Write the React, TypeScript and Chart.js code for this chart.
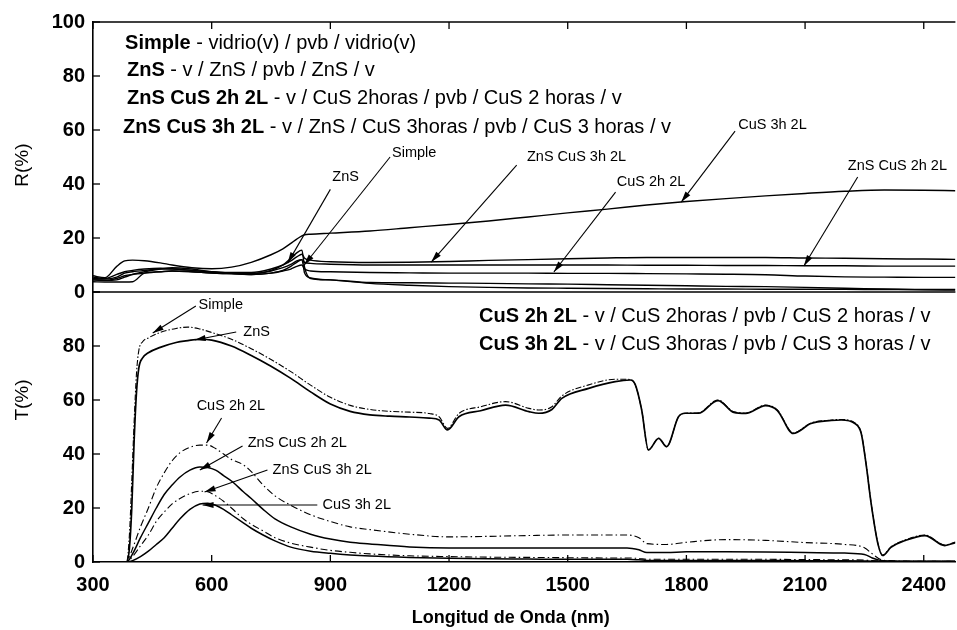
import React, { useEffect, useRef } from 'react';
import { Chart, registerables } from 'chart.js';

Chart.register(...registerables);

const FONT = '"Liberation Sans", Arial, Helvetica, sans-serif';

// ---------- Reflectance panel (R %) ----------
const wlR = [300, 330, 360, 380, 400, 430, 470, 500, 550, 600, 650, 700, 750, 780, 800, 815, 828, 835, 850, 900, 1000, 1100, 1200, 1300, 1400, 1500, 1600, 1700, 1800, 1900, 2000, 2100, 2200, 2300, 2400, 2480];
const rSimple = [3.8, 3.7, 3.7, 3.7, 3.8, 7, 7.5, 7.8, 7.5, 7, 6.8, 6.5, 7, 8, 9.5, 11, 12, 7, 5.2, 4.5, 3.2, 2.5, 2, 1.7, 1.5, 1.4, 1.3, 1.2, 1.1, 1.1, 1, 1, 1, 0.9, 0.9, 0.9];
const rZnS = [4.5, 4.3, 4.5, 5.5, 6.5, 7.5, 8.5, 9, 8.5, 7.5, 7, 6.8, 8, 10, 12.5, 14.5, 15.5, 9, 5, 4.5, 3.5, 3.4, 3.3, 3.2, 3, 2.9, 2.7, 2.5, 2.3, 2.1, 2, 1.7, 1.4, 1.1, 0.8, 0.7];
const rZnSCuS2h = [4.5, 4.3, 5, 6, 6.5, 7, 7.5, 7.8, 7.5, 7, 6.8, 6.8, 7.8, 9, 10.2, 11.5, 12, 11, 10.6, 10.3, 10, 10, 10, 10, 10, 10, 10, 9.9, 9.9, 9.8, 9.8, 9.7, 9.7, 9.6, 9.6, 9.6];
const rZnSCuS3h = [5, 4.8, 5.5, 7, 7.5, 8, 8.5, 8.5, 8, 7.5, 7.2, 7.2, 8.5, 10, 11.5, 13, 14, 12.5, 11.8, 11.2, 10.9, 11, 11.3, 11.7, 12, 12.3, 12.6, 12.8, 12.8, 12.8, 12.8, 12.6, 12.5, 12.3, 12.2, 12.1];
const rCuS2h = [5.5, 5, 6.5, 7.5, 8, 8.5, 8.8, 8.6, 8, 7.3, 6.8, 6.5, 7, 7.8, 8.5, 9.5, 10, 8.5, 7.8, 7.5, 7.2, 7.1, 7, 7, 7, 6.9, 6.9, 6.8, 6.7, 6.6, 6.4, 5.9, 5.6, 5.5, 5.4, 5.4];
const rCuS3h = [6, 5.3, 9.5, 11.5, 11.8, 11.6, 10.8, 10, 9, 8.6, 9.2, 11, 13.8, 16, 18, 19.6, 20.8, 21.2, 21.4, 21.8, 22.6, 23.8, 25, 26.3, 27.8, 29.3, 30.7, 32.2, 33.5, 34.6, 35.6, 36.5, 37.3, 37.8, 37.7, 37.5];

// ---------- Transmittance panel (T %) ----------
const wlTHigh = [300, 385, 392, 398, 404, 410, 416, 425, 440, 470, 510, 540, 570, 600, 650, 700, 750, 800, 850, 900, 950, 1000, 1050, 1100, 1150, 1175, 1196, 1225, 1280, 1343, 1402, 1427, 1460, 1485, 1553, 1620, 1658, 1671, 1687, 1704, 1730, 1750, 1780, 1797, 1831, 1870, 1880, 1920, 1950, 2000, 2030, 2070, 2115, 2166, 2191, 2226, 2242, 2254, 2267, 2284, 2296, 2317, 2352, 2403, 2453, 2480];
const tSimple = [0, 0, 10, 30, 52, 70, 78.5, 81.5, 83, 85, 86.5, 87, 86.3, 85, 82.5, 79, 75, 70.5, 65.5, 61, 58, 56.5, 55.8, 55.5, 55, 53.8, 49.5, 55, 57.5, 59.4, 56.9, 56.3, 57.5, 61.5, 65.6, 67.7, 67.6, 65.6, 56.3, 41.5, 45.8, 42.7, 53.8, 55.1, 55.3, 59.5, 60, 55.6, 55.2, 58.1, 56.3, 47.8, 51.5, 52.6, 52.8, 51.5, 47.8, 36.7, 21.9, 7, 2.6, 5.6, 8.1, 10, 6.3, 7.4];
const tZnS = [0, 0, 5, 20, 45, 63, 72, 75.5, 77.5, 79.5, 81.3, 82, 82.5, 82.2, 80, 76.5, 72.5, 68, 63, 58.5, 55.8, 54.5, 54, 53.7, 53.3, 52.6, 48.9, 53.8, 56, 58.1, 55.7, 55.1, 56.5, 60.6, 64.3, 66.8, 67.4, 65.6, 56.3, 41.5, 45.8, 42.7, 53.8, 55.1, 55.1, 59.3, 59.8, 55.4, 55, 57.9, 56.1, 47.6, 51.3, 52.4, 52.6, 51.3, 47.6, 36.5, 21.7, 6.8, 2.4, 5.4, 7.9, 9.8, 6.1, 7.2];

const wlTLow = [300, 385, 400, 420, 440, 460, 480, 500, 520, 545, 570, 590, 610, 630, 650, 680, 700, 730, 760, 800, 850, 900, 950, 1000, 1100, 1200, 1300, 1400, 1500, 1600, 1650, 1680, 1700, 1750, 1800, 1900, 2000, 2100, 2200, 2250, 2270, 2290, 2310, 2400, 2480];
const tCuS2h = [0, 0, 5, 13, 20, 27.5, 33, 37.5, 40.5, 42.5, 43.3, 43.3, 42, 40, 38, 36, 33.5, 28.5, 24.5, 21, 17.5, 15, 13, 12, 10.3, 9.3, 9.5, 9.8, 10, 10, 10, 9, 6.8, 6.5, 7.3, 8.3, 8, 7.2, 6.5, 5.3, 3, 1, 0.5, 0.3, 0.3];
const tZnSCuS2h = [0, 0, 3, 9, 14.5, 20, 25, 28.5, 31.5, 34, 35.2, 35, 34, 32, 30, 26, 23.5, 19.5, 16, 13, 10.3, 8.5, 7.3, 6.7, 5.6, 5.2, 5.2, 5.2, 5.2, 5.2, 5.2, 4.5, 3.5, 3.5, 3.8, 3.8, 3.7, 3.5, 3.3, 2.8, 1.5, 0.6, 0.4, 0.3, 0.3];
const tZnSCuS3h = [0, 0, 2, 6, 10, 15, 18.5, 21.5, 23.5, 25.3, 26.2, 26, 24.5, 22.5, 20, 16, 14, 11.5, 9, 7, 5.5, 4.3, 3.6, 3, 2.3, 2, 1.8, 1.7, 1.6, 1.5, 1.5, 1.3, 1, 1, 1, 1, 1, 0.9, 0.8, 0.7, 0.5, 0.4, 0.3, 0.3, 0.3];
const tCuS3h = [0, 0, 0.5, 2, 4, 6.5, 9, 12.5, 16, 19.5, 21.5, 21.8, 21, 19.5, 17.5, 14.5, 12.5, 10, 7.8, 5.5, 4, 3.2, 2.6, 2.2, 1.7, 1.4, 1.2, 1.1, 1, 1, 1, 0.8, 0.6, 0.6, 0.6, 0.6, 0.6, 0.5, 0.5, 0.4, 0.3, 0.3, 0.2, 0.2, 0.2];

// ---------- axes ----------
const xMin = 300;
const xMax = 2480;
const xTicks = [300, 600, 900, 1200, 1500, 1800, 2100, 2400];
const yTicks = [0, 20, 40, 60, 80, 100];

// ---------- texts ----------
const headersR = [
  { bold: 'Simple', rest: ' - vidrio(v) / pvb / vidrio(v)', x: 381, y: 92.2 },
  { bold: 'ZnS', rest: ' - v / ZnS / pvb / ZnS / v', x: 386, y: 81.9 },
  { bold: 'ZnS CuS 2h 2L', rest: ' - v / CuS 2horas / pvb / CuS 2 horas / v', x: 386, y: 71.5 },
  { bold: 'ZnS CuS 3h 2L', rest: ' - v / ZnS / CuS 3horas / pvb / CuS 3 horas / v', x: 376, y: 61.1 },
];
const headersT = [
  { bold: 'CuS 2h 2L', rest: ' - v / CuS 2horas / pvb / CuS 2 horas / v', x: 1276, y: 91.1 },
  { bold: 'CuS 3h 2L', rest: ' - v / CuS 3horas / pvb / CuS 3 horas / v', x: 1276, y: 80.4 },
];

const calloutsR = [
  { text: 'Simple', tx: 1056, ty: 51.5, fx: 1051, fy: 50, ax: 834, ay: 10 },
  { text: 'ZnS', tx: 905, ty: 42.6, fx: 900, fy: 38, ax: 792, ay: 10.7 },
  { text: 'ZnS CuS 3h 2L', tx: 1397, ty: 50, fx: 1371, fy: 47, ax: 1155, ay: 11.1 },
  { text: 'CuS 2h 2L', tx: 1624, ty: 40.7, fx: 1621, fy: 37, ax: 1465, ay: 7.4 },
  { text: 'CuS 3h 2L', tx: 1931, ty: 61.9, fx: 1923, fy: 59.6, ax: 1787, ay: 33.3 },
  { text: 'ZnS CuS 2h 2L', tx: 2208, ty: 46.7, fx: 2233, fy: 42.6, ax: 2097, ay: 9.6 },
];
const calloutsT = [
  { text: 'Simple', tx: 567, ty: 95.2, fx: 560, fy: 94.8, ax: 451, ay: 84.8 },
  { text: 'ZnS', tx: 680, ty: 85.2, fx: 662, fy: 85.2, ax: 557, ay: 82.2 },
  { text: 'CuS 2h 2L', tx: 562, ty: 57.8, fx: 625, fy: 53.3, ax: 587, ay: 44.1 },
  { text: 'ZnS CuS 2h 2L', tx: 691, ty: 44.1, fx: 678, fy: 43, ax: 570, ay: 34.1 },
  { text: 'ZnS CuS 3h 2L', tx: 754, ty: 34.1, fx: 741, fy: 34.1, ax: 582, ay: 25.9 },
  { text: 'CuS 3h 2L', tx: 880, ty: 21.1, fx: 867, fy: 21.1, ax: 577, ay: 21.1 },
];

const titleR = { text: 'R(%)', y: 47 };
const titleT = { text: 'T(%)', y: 60 };
const titleX = { text: 'Longitud de Onda (nm)', x: 1356 };

function pts(xs: number[], ys: number[]) {
  return xs.map((x, i) => ({ x, y: ys[i] }));
}

export default function App() {
  const ref = useRef<HTMLCanvasElement>(null);

  useEffect(() => {
    const canvas = ref.current;
    if (!canvas) return;

    const mk = (label: string, xs: number[], ys: number[], axis: string, width: number, dash: number[] = []) => ({
      label,
      data: pts(xs, ys),
      yAxisID: axis,
      borderColor: '#000',
      borderWidth: width,
      borderDash: dash,
      pointRadius: 0,
      fill: false,
      cubicInterpolationMode: 'monotone' as const,
    });

    const datasets = [
      mk('R Simple', wlR, rSimple, 'yR', 1.4),
      mk('R ZnS', wlR, rZnS, 'yR', 1.4),
      mk('R ZnS CuS 2h 2L', wlR, rZnSCuS2h, 'yR', 1.4),
      mk('R ZnS CuS 3h 2L', wlR, rZnSCuS3h, 'yR', 1.4),
      mk('R CuS 2h 2L', wlR, rCuS2h, 'yR', 1.4),
      mk('R CuS 3h 2L', wlR, rCuS3h, 'yR', 1.4),
      mk('T Simple', wlTHigh, tSimple, 'yT', 1.1, [6, 2, 1.5, 2]),
      mk('T ZnS', wlTHigh, tZnS, 'yT', 1.7),
      mk('T CuS 2h 2L', wlTLow, tCuS2h, 'yT', 1.1, [7, 3, 1.5, 3]),
      mk('T ZnS CuS 2h 2L', wlTLow, tZnSCuS2h, 'yT', 1.5),
      mk('T ZnS CuS 3h 2L', wlTLow, tZnSCuS3h, 'yT', 1.1, [7, 3, 1.5, 3]),
      mk('T CuS 3h 2L', wlTLow, tCuS3h, 'yT', 1.5),
    ];

    const decor = {
      id: 'decor',
      afterDraw(chart: any) {
        const { ctx, chartArea: a, scales } = chart;
        const sx = scales.x;
        const yR = scales.yR;
        const yT = scales.yT;
        const line = (x1: number, y1: number, x2: number, y2: number) => {
          ctx.beginPath();
          ctx.moveTo(x1, y1);
          ctx.lineTo(x2, y2);
          ctx.stroke();
        };
        ctx.save();
        ctx.strokeStyle = '#000';
        ctx.fillStyle = '#000';
        ctx.setLineDash([]);
        ctx.lineWidth = 1.6;
        line(a.left, a.top, a.right, a.top);
        line(a.left, yR.bottom, a.right, yR.bottom);
        ctx.lineWidth = 1.3;
        sx.ticks.forEach((t: any) => {
          const px = sx.getPixelForValue(t.value);
          line(px, a.bottom, px, a.bottom - 7);
          line(px, a.top, px, a.top + 7);
        });
        [yR, yT].forEach((s: any) => {
          s.ticks.forEach((t: any) => {
            const py = s.getPixelForValue(t.value);
            line(a.left, py, a.left + 7, py);
          });
        });

        // headers
        ctx.textBaseline = 'middle';
        ctx.textAlign = 'left';
        const drawHeader = (h: any, s: any) => {
          const px = sx.getPixelForValue(h.x);
          const py = s.getPixelForValue(h.y);
          ctx.font = `bold 20px ${FONT}`;
          ctx.fillText(h.bold, px, py);
          const w = ctx.measureText(h.bold).width;
          ctx.font = `20px ${FONT}`;
          ctx.fillText(h.rest, px + w, py);
        };
        headersR.forEach((h) => drawHeader(h, yR));
        headersT.forEach((h) => drawHeader(h, yT));

        // callouts
        const drawCallout = (c: any, s: any) => {
          ctx.font = `14.5px ${FONT}`;
          ctx.fillText(c.text, sx.getPixelForValue(c.tx), s.getPixelForValue(c.ty));
          const x1 = sx.getPixelForValue(c.fx);
          const y1 = s.getPixelForValue(c.fy);
          const x2 = sx.getPixelForValue(c.ax);
          const y2 = s.getPixelForValue(c.ay);
          ctx.lineWidth = 1.1;
          line(x1, y1, x2, y2);
          const ang = Math.atan2(y2 - y1, x2 - x1);
          const L = 11;
          const W = 3;
          ctx.beginPath();
          ctx.moveTo(x2, y2);
          ctx.lineTo(x2 - L * Math.cos(ang) + W * Math.sin(ang), y2 - L * Math.sin(ang) - W * Math.cos(ang));
          ctx.lineTo(x2 - L * Math.cos(ang) - W * Math.sin(ang), y2 - L * Math.sin(ang) + W * Math.cos(ang));
          ctx.closePath();
          ctx.fill();
        };
        calloutsR.forEach((c) => drawCallout(c, yR));
        calloutsT.forEach((c) => drawCallout(c, yT));

        // axis titles
        ctx.font = `19px ${FONT}`;
        ctx.textAlign = 'center';
        [
          { t: titleR, s: yR },
          { t: titleT, s: yT },
        ].forEach(({ t, s }) => {
          ctx.save();
          ctx.translate(a.left - 70, s.getPixelForValue(t.y));
          ctx.rotate(-Math.PI / 2);
          ctx.fillText(t.text, 0, 0);
          ctx.restore();
        });
        ctx.font = `bold 18px ${FONT}`;
        ctx.fillText(titleX.text, sx.getPixelForValue(titleX.x), a.bottom + 56);
        ctx.restore();
      },
    };

    const tickFont = { family: FONT, size: 20, weight: 'bold' as const };
    const yAxis = (hideTop: boolean) => ({
      type: 'linear' as const,
      position: 'left' as const,
      stack: 'panels',
      stackWeight: 1,
      min: 0,
      max: 100,
      afterFit: (s: any) => {
        s.width = 93;
      },
      afterBuildTicks: (s: any) => {
        s.ticks = yTicks.map((v) => ({ value: v }));
      },
      border: { color: '#000', width: 1.6 },
      grid: { display: true, drawOnChartArea: false, drawTicks: false },
      ticks: {
        color: '#000',
        font: tickFont,
        padding: 8,
        callback: (v: any) => (hideTop && v === 100 ? '' : String(v)),
      },
    });

    const chart = new Chart(canvas, {
      type: 'line',
      data: { datasets } as any,
      plugins: [decor],
      options: {
        animation: false,
        responsive: false,
        maintainAspectRatio: false,
        layout: { padding: { left: 0, right: 0, top: 22, bottom: 0 } },
        plugins: { legend: { display: false }, tooltip: { enabled: false } },
        elements: { point: { radius: 0 } },
        scales: {
          x: {
            type: 'linear',
            min: xMin,
            max: xMax,
            afterFit: (s: any) => {
              s.height = 68;
            },
            afterBuildTicks: (s: any) => {
              s.ticks = xTicks.map((v) => ({ value: v }));
            },
            border: { color: '#000', width: 1.6 },
            grid: { display: true, drawOnChartArea: false, drawTicks: false },
            ticks: {
              autoSkip: false,
              maxRotation: 0,
              color: '#000',
              font: tickFont,
              padding: 11,
              callback: (v: any) => String(v),
            },
          },
          yT: yAxis(true),
          yR: yAxis(false),
        },
      } as any,
    });

    return () => chart.destroy();
  }, []);

  return (
    <div style={{ position: 'absolute', left: 0, top: 0, width: 957, height: 630, background: '#fff' }}>
      <canvas ref={ref} width={957} height={630} style={{ display: 'block' }} />
    </div>
  );
}
